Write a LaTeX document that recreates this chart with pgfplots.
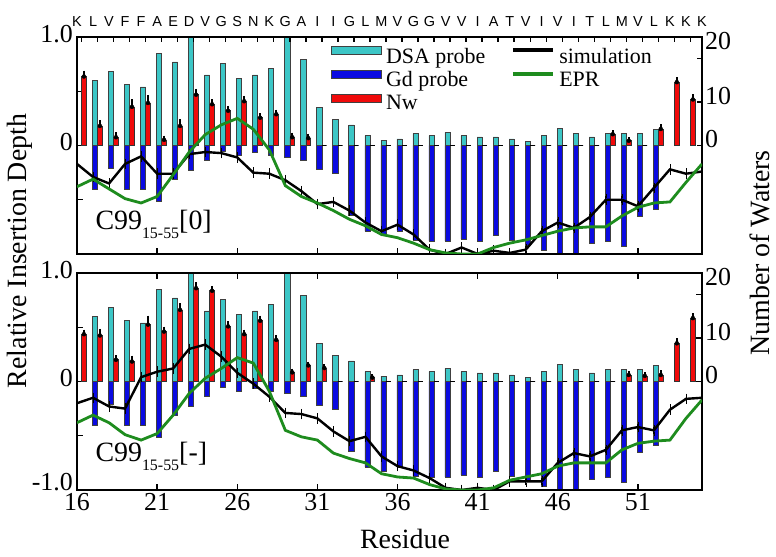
\documentclass[border=0pt]{standalone}
\usepackage{pgfplots}
\pgfplotsset{compat=1.18}
\usepackage{pgfplotstable}
\usepackage{fontspec}
\setmainfont{Liberation Serif}
\newfontfamily\seqfont{Liberation Sans}
\definecolor{dsacyan}{RGB}{60,198,198}
\definecolor{gdblue}{RGB}{10,10,225}
\definecolor{nwred}{RGB}{240,10,10}
\definecolor{eprgreen}{RGB}{30,140,30}

% DSA (positive) and Gd (negative) probe depths, same in both panels
\pgfplotstableread{
res dsa gd
17 0.60 -0.40
18 0.68 -0.21
19 0.56 -0.40
20 0.54 -0.40
21 0.85 -0.51
22 0.77 -0.31
23 1.00 -0.23
24 0.65 -0.14
25 0.76 -0.05
26 0.62 -0.09
27 0.65 -0.06
28 0.71 -0.09
29 1.00 -0.11
30 0.79 -0.14
31 0.35 -0.22
32 0.24 -0.26
33 0.19 -0.64
34 0.09 -0.79
35 0.05 -0.83
36 0.06 -0.79
37 0.11 -0.87
38 0.09 -0.88
39 0.12 -0.88
40 0.09 -0.86
41 0.08 -0.88
42 0.08 -0.83
43 0.06 -0.87
44 0.04 -0.92
45 0.09 -0.97
46 0.16 -1.00
47 0.11 -1.00
48 0.08 -0.90
49 0.11 -0.88
50 0.11 -0.93
51 0.11 -0.65
52 0.15 -0.59
}\probe

% number of waters, C99 [0]
\pgfplotstableread{
res nw err
16 15.9 0.8
17 4.5 0.8
18 1.9 0.6
19 8.9 1.2
20 9.8 1.2
21 1.3 0.4
22 4.5 1.0
23 11.7 0.8
24 9.5 0.6
25 8.0 0.6
26 10.2 0.7
27 6.4 0.5
28 7.2 0.5
29 1.9 0.5
30 1.7 0.5
49 2.6 0.4
50 1.1 0.3
52 3.8 0.6
53 14.6 0.6
54 10.6 0.6
}\nwtop

% number of waters, C99 [-]
\pgfplotstableread{
res nw err
16 10.9 0.5
17 10.6 1.0
18 5.0 0.5
19 4.6 0.8
20 13.1 1.5
21 11.5 0.6
22 16.5 1.0
23 21.5 0.8
24 20.9 0.6
25 12.7 0.6
26 10.9 0.5
27 14.0 0.6
28 9.6 0.6
29 2.1 0.3
30 3.7 0.3
31 3.1 0.3
34 0.9 0.2
50 1.5 0.3
51 1.3 0.3
52 1.5 0.5
53 8.8 0.6
54 14.6 0.6
}\nwbot

% simulation and EPR depth curves
\pgfplotstableread{
res simtop eprtop simbot eprbot
16 -0.17 -0.38 -0.20 -0.38
17 -0.29 -0.31 -0.15 -0.31
18 -0.35 -0.40 -0.23 -0.38
19 -0.17 -0.49 -0.25 -0.49
20 -0.10 -0.53 0.04 -0.54
21 -0.26 -0.47 0.09 -0.48
22 -0.26 -0.27 0.12 -0.31
23 -0.08 -0.06 0.30 -0.11
24 -0.06 0.10 0.34 0.03
25 -0.07 0.19 0.23 0.12
26 -0.11 0.25 0.08 0.22
27 -0.25 0.15 -0.02 0.17
28 -0.26 -0.04 -0.14 -0.09
29 -0.32 -0.37 -0.29 -0.45
30 -0.42 -0.47 -0.30 -0.51
31 -0.54 -0.53 -0.34 -0.54
32 -0.52 -0.60 -0.46 -0.66
33 -0.60 -0.68 -0.55 -0.71
34 -0.71 -0.74 -0.51 -0.75
35 -0.79 -0.82 -0.69 -0.85
36 -0.73 -0.85 -0.78 -0.88
37 -0.82 -0.90 -0.82 -0.89
38 -0.96 -0.96 -0.89 -0.95
39 -1.00 -0.99 -0.98 -0.99
40 -0.94 -1.00 -1.00 -1.00
41 -1.00 -1.00 -0.98 -1.00
42 -0.97 -0.94 -1.00 -0.98
43 -0.99 -0.90 -0.92 -0.91
44 -0.96 -0.87 -0.92 -0.88
45 -0.79 -0.83 -0.92 -0.85
46 -0.71 -0.79 -0.75 -0.78
47 -0.76 -0.76 -0.66 -0.75
48 -0.66 -0.75 -0.69 -0.75
49 -0.50 -0.75 -0.63 -0.75
50 -0.50 -0.65 -0.45 -0.63
51 -0.56 -0.57 -0.42 -0.57
52 -0.39 -0.53 -0.45 -0.55
53 -0.22 -0.52 -0.26 -0.54
54 -0.26 -0.34 -0.16 -0.34
55 -0.24 -0.17 -0.15 -0.17
}\curves

\pgfplotsset{
  panel/.style={
    scale only axis, width=625bp, height=217bp,
    xmin=16, xmax=55,
    axis line style={line width=1.5bp, black},
    tick style={line width=1.4bp, black},
    tick align=inside,
    major tick length=6bp,
    ticklabel style={font=\fontsize{26}{28}\selectfont},
  },
  barstyle/.style={ybar, bar width=0.32, bar shift=0.12, draw=black!75, line width=0.6bp},
  nwstyle/.style={ybar, bar width=0.3, bar shift=0.43, fill=nwred, draw=black!80, line width=0.6bp},
  nwerr/.style={black, only marks, mark=none, forget plot,
    error bars/.cd, y dir=plus, y explicit, error mark=-,
    error bar style={black, line width=1.2bp},
    error mark options={black, mark size=2.4bp, line width=2.2bp}},
  zerobar/.style={ybar, bar width=0.3, bar shift=0.43, draw=black, line width=1.3bp},
  simline/.style={black, line width=2.4bp, forget plot,
    error bars/.cd, y dir=both, y fixed=0.03, error mark=-,
    error bar style={black, line width=0.9bp}, error mark options={black, mark size=2bp}},
  eprline/.style={eprgreen, line width=2.8bp, forget plot},
}

\begin{document}
\begin{tikzpicture}
\useasboundingbox (-77bp,-67bp) rectangle (699bp,490bp);

% ===================== top panel =====================
\begin{axis}[panel, at={(0bp,236bp)}, ymin=-1, ymax=1,
  xtick={16,21,...,51}, xtick pos=bottom, xticklabels={},
  ytick={-1,-0.5,0,0.5,1}, yticklabels={,,0,,1.0}, ytick pos=left,
  yticklabel style={inner sep=4bp, yshift=3bp}]
\addplot[barstyle, fill=dsacyan] table[x=res, y=dsa] {\probe};
\addplot[barstyle, fill=gdblue] table[x=res, y=gd] {\probe};
\node[anchor=base west, font=\fontsize{28}{28}\selectfont] at (rel axis cs:0.024,0.115)
  {C99\raisebox{-9bp}{\fontsize{16}{16}\selectfont 15-55}[0]};
\end{axis}

\begin{axis}[panel, at={(0bp,236bp)}, ymin=-25, ymax=25,
  xtick={16.28,17.28,...,54.3}, xtick pos=top, xticklabels={}, major tick length=5bp,
  ytick={0,10,20}, yticklabels={0,10,\raisebox{24bp}{20}}, ytick pos=right,
  yticklabel pos=right, yticklabel style={inner sep=3bp, yshift=6bp}]
\addplot[nwstyle] table[x=res, y=nw] {\nwtop};
\addplot[nwerr] table[x expr=\thisrow{res}+0.43, y=nw, y error=err] {\nwtop};
\addplot[zerobar] coordinates {(31,0) (32,0) (33,0) (34,0) (35,0) (36,0) (37,0) (38,0) (39,0) (40,0) (41,0) (42,0) (43,0) (44,0) (45,0) (46,0) (47,0) (48,0) (51,0)};
\end{axis}

\begin{axis}[panel, at={(0bp,236bp)}, ymin=-1, ymax=1,
  axis x line*=top, axis y line=none,
  xtick={16,...,55}, major tick length=0pt,
  xticklabels={K,L,V,F,F,A,E,D,V,G,S,N,K,G,A,I,I,G,L,M,V,G,G,V,V,I,A,T,V,I,V,I,T,L,M,V,L,K,K,K},
  xticklabel style={font=\seqfont\fontsize{14.5}{14.5}\selectfont, anchor=south, inner sep=0pt, yshift=10bp},
  legend columns=2, legend cell align=left,
  legend style={at={(0.406,0.96)}, anchor=north west, draw=none, fill=none,
    inner sep=0pt, font=\fontsize{22}{22}\selectfont, row sep=3.5bp,
    nodes={inner sep=1.5bp},
    /tikz/every odd column/.append style={column sep=3bp},
    /tikz/every even column/.append style={column sep=24bp}}]
\addplot[simline] table[x=res, y=simtop] {\curves};
\addplot[eprline] table[x=res, y=eprtop] {\curves};
\addlegendimage{legend image code/.code={\draw[fill=dsacyan, draw=black!75, line width=0.6bp] (0bp,2bp) rectangle (50bp,10bp);}}
\addlegendentry{DSA probe}
\addlegendimage{legend image code/.code={\draw[black, line width=4bp] (0bp,6bp) -- (40bp,6bp);}}
\addlegendentry{simulation}
\addlegendimage{legend image code/.code={\draw[fill=gdblue, draw=black!75, line width=0.6bp] (0bp,2bp) rectangle (50bp,10bp);}}
\addlegendentry{Gd probe}
\addlegendimage{legend image code/.code={\draw[eprgreen, line width=4bp] (0bp,6bp) -- (40bp,6bp);}}
\addlegendentry{EPR}
\addlegendimage{legend image code/.code={\draw[fill=nwred, draw=black!75, line width=0.6bp] (0bp,0bp) rectangle (50bp,8bp);}}
\addlegendentry{Nw}
\end{axis}

% ===================== bottom panel =====================
\begin{axis}[panel, at={(0bp,0bp)}, ymin=-1, ymax=1,
  xtick={16,21,...,51}, xtick pos=both, xticklabels={16,21,26,31,36,41,46,51},
  xticklabel pos=bottom, xticklabel style={inner sep=3bp},
  ytick={-1,-0.5,0,0.5,1}, yticklabels={\raisebox{10bp}{-1.0},,0,,1.0}, ytick pos=left,
  yticklabel style={inner sep=4bp, yshift=3bp}]
\addplot[barstyle, fill=dsacyan] table[x=res, y=dsa] {\probe};
\addplot[barstyle, fill=gdblue] table[x=res, y=gd] {\probe};
\node[anchor=base west, font=\fontsize{28}{28}\selectfont] at (rel axis cs:0.024,0.13)
  {C99\raisebox{-9bp}{\fontsize{16}{16}\selectfont 15-55}[-]};
\end{axis}

\begin{axis}[panel, at={(0bp,0bp)}, ymin=-25, ymax=25,
  xtick=\empty,
  ytick={0,10,20}, yticklabels={0,10,\raisebox{24bp}{20}}, ytick pos=right,
  yticklabel pos=right, yticklabel style={inner sep=3bp, yshift=6bp}]
\addplot[nwstyle] table[x=res, y=nw] {\nwbot};
\addplot[nwerr] table[x expr=\thisrow{res}+0.43, y=nw, y error=err] {\nwbot};
\addplot[zerobar] coordinates {(32,0) (33,0) (35,0) (36,0) (37,0) (38,0) (39,0) (40,0) (41,0) (42,0) (43,0) (44,0) (45,0) (46,0) (47,0) (48,0) (49,0)};
\end{axis}

\begin{axis}[panel, at={(0bp,0bp)}, ymin=-1, ymax=1, hide axis]
\addplot[simline] table[x=res, y=simbot] {\curves};
\addplot[eprline] table[x=res, y=eprbot] {\curves};
\end{axis}

% axis titles
\node[rotate=90, inner sep=0pt, font=\fontsize{28}{28}\selectfont] at (-57bp,239bp) {Relative Insertion Depth};
\node[rotate=90, inner sep=0pt, font=\fontsize{28}{28}\selectfont] at (683bp,237bp) {Number of Waters};
\node[inner sep=0pt, font=\fontsize{28}{28}\selectfont] at (328bp,-49bp) {Residue};
\end{tikzpicture}
\end{document}
